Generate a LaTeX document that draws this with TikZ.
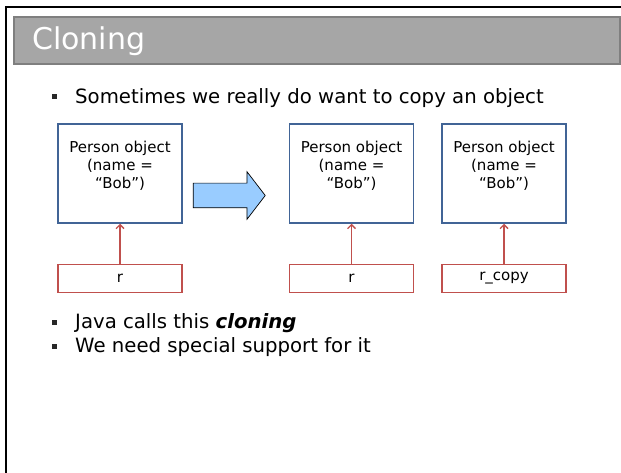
\documentclass[tikz,border=0pt]{standalone}
\usepackage{fontspec}
\setmainfont{DejaVu Sans}
\usetikzlibrary{arrows.meta,positioning,shapes.arrows}
\definecolor{slidegray}{RGB}{166,166,166}
\definecolor{slideedge}{RGB}{127,127,127}
\definecolor{objblue}{RGB}{65,100,150}
\definecolor{refred}{RGB}{192,80,77}
\definecolor{arrowfill}{RGB}{153,204,255}
\definecolor{bulletgray}{RGB}{40,40,40}
\tikzset{
  titlebar/.style={draw=slideedge, fill=slidegray, line width=1.4pt},
  objbox/.style={draw=objblue, line width=1.5pt, minimum width=124pt, minimum height=99pt,
               align=center, text depth=18pt, inner sep=0pt, font=\fontsize{15}{18}\selectfont},
  refbox/.style={draw=refred, line width=1.5pt, minimum width=124pt, minimum height=28pt,
               inner sep=0pt, font=\fontsize{15}{18}\selectfont},
  refarrow/.style={-{Straight Barb[length=4pt,width=8pt]}, line width=1.4pt, draw=refred},
  bigarrow/.style={single arrow, draw=black, line width=0.7pt, fill=arrowfill,
               minimum height=72pt, minimum width=47pt, inner xsep=0pt, inner ysep=12pt,
               single arrow head extend=11.5pt, single arrow tip angle=105},
  bline/.style={anchor=west, inner sep=0pt, text height=14.6pt, text depth=4.9pt,
               font=\fontsize{19.7}{23.5}\selectfont},
  bsq/.style={fill=bulletgray, minimum size=5pt, inner sep=0pt, yshift=2pt},
}

\begin{document}
\begin{tikzpicture}[x=1pt, y=-1pt]
    \useasboundingbox (0,0) rectangle (621,473);
    \draw[line width=1.3pt] (6,473) -- (6,7) -- (621,7);
    \draw[titlebar] (14,17) rectangle (620,64);
    \node[anchor=west, inner sep=0pt, text=white, font=\fontsize{30}{36}\selectfont] (title) at (32,41) {Cloning};

    \node[bline] (b1) at (75,99) {Sometimes we really do want to copy an object};
    \node[bline] (b2) at (75,324) {Java calls this \textbf{\textit{cloning}}};
    \node[bline] (b3) at (75,348) {We need special support for it};
    \foreach \b in {b1,b2,b3}
      \node[bsq, left=18pt of \b.west] {};

    \node[objbox] (obj) at (120,173.5) {Person object\\(name =\\“Bob”)};
    \node[objbox, right=106pt of obj] (objb) {Person object\\(name =\\“Bob”)};
    \node[objbox, right=27pt of objb] (copy) {Person object\\(name =\\“Bob”)};
    \node[refbox, below=40pt of obj] (r) {r};
    \node[refbox, below=40pt of objb] (rb) {r};
    \node[refbox, below=40pt of copy] (rcopy) {r\_copy};
    \node[bigarrow] (step) at (224.5,195.5) {};

    \draw[refarrow] (r) -- (obj);
    \draw[refarrow] (rb) -- (objb);
    \draw[refarrow] (rcopy) -- (copy);
  \end{tikzpicture}
\end{document}
